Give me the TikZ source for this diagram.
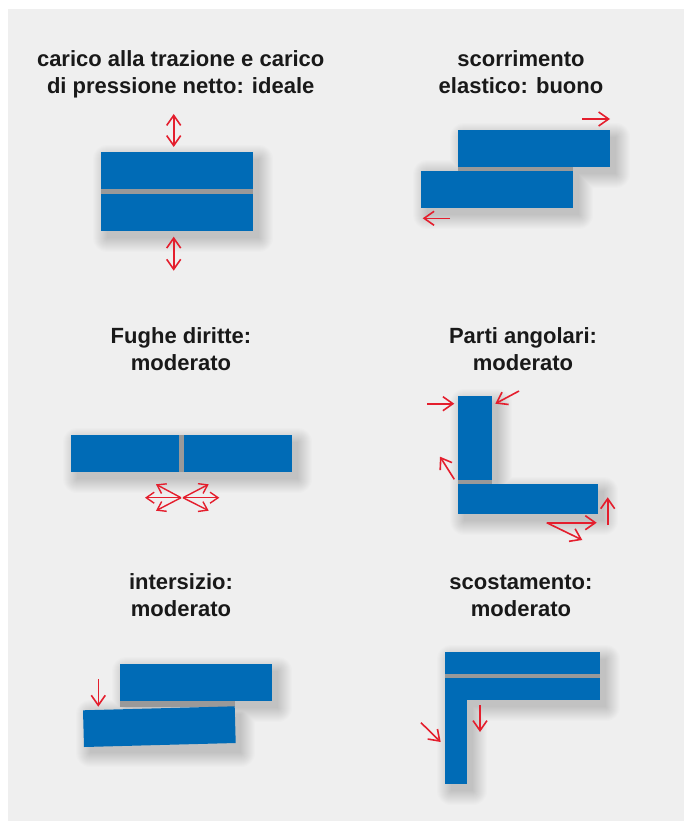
\documentclass[tikz,border=0pt]{standalone}
\usepackage{fontspec}
\setmainfont{Liberation Sans}
\usetikzlibrary{arrows.meta}
\definecolor{bgcol}{RGB}{239,239,239}
\definecolor{tileblue}{RGB}{0,107,182}
\definecolor{jointgray}{RGB}{153,153,153}
\definecolor{arrowred}{RGB}{228,30,45}
\newcommand\softshadow[4]{%
  \foreach \s in {0,...,14}{\fill[black,opacity=0.011,rounded corners=\s pt] (#1+6-\s,#2+7-\s) rectangle (#3+6+\s,#4+7+\s);}}
\newcommand\softshadowL[8]{%
  \foreach \s in {0,...,14}{\fill[black,opacity=0.011,rounded corners=\s pt] (#1+6-\s,#2+7-\s) rectangle (#3+6+\s,#4+7+\s) (#5+6-\s,#6+7-\s) rectangle (#7+6+\s,#8+7+\s);}}
\tikzset{
  block/.style={fill=tileblue},
  joint/.style={fill=jointgray},
  title/.style={anchor=base, inner sep=0pt, font=\fontsize{22}{27}\selectfont\bfseries, text=black!90},
  redarrow/.style={draw=arrowred, line width=1.6pt, -{Straight Barb[length=10pt,width=14pt]}},
  redboth/.style={draw=arrowred, line width=1.6pt, {Straight Barb[length=10pt,width=14pt]}-{Straight Barb[length=10pt,width=14pt]}},
  smallarrow/.style={draw=arrowred, line width=1.4pt, -{Straight Barb[length=8pt,width=11pt]}}
}
\begin{document}
\begin{tikzpicture}[x=1pt,y=-1pt]
\useasboundingbox (0,0) rectangle (684,821);
\fill[bgcol] (8,9) rectangle (684,821);

% ---------- titles
\node[title] (t1a) at (180.7,66.7) {carico alla trazione e carico};
\node[title] (t1b) at (180.7,93.5) {di pressione netto: ideale};
\node[title] (t2a) at (521,66.7) {scorrimento};
\node[title] (t2b) at (521,93.5) {elastico: buono};
\node[title] (t3a) at (181,343) {Fughe diritte:};
\node[title] (t3b) at (181,370) {moderato};
\node[title] (t4a) at (523,343) {Parti angolari:};
\node[title] (t4b) at (523,370) {moderato};
\node[title] (t5a) at (181,589) {intersizio:};
\node[title] (t5b) at (181,616) {moderato};
\node[title] (t6a) at (521,589) {scostamento:};
\node[title] (t6b) at (521,616) {moderato};

% ---------- shadows
\softshadow{101}{152}{253}{231}
\softshadowL{458}{130}{610}{167}{421}{167}{573}{208}
\softshadow{71}{435}{292}{472}
\softshadowL{458}{396}{492}{484}{458}{484}{598}{514}
\softshadowL{120}{664}{272}{701}{84}{707}{235}{746}
\softshadowL{445}{652}{600}{700}{445}{652}{467}{784}

% ---------- panel 1
\fill[block] (101,152) rectangle (253,189);
\fill[joint] (101,189) rectangle (253,194);
\fill[block] (101,194) rectangle (253,231);
\coordinate (p1a) at (173.7,114);
\coordinate (p1b) at (173.7,147);
\coordinate (p1c) at (173.7,236.7);
\coordinate (p1d) at (173.7,270.7);
\draw[redboth] (p1a) -- (p1b);
\draw[redboth] (p1c) -- (p1d);

% ---------- panel 2
\fill[block] (458,130) rectangle (610,166.7);
\fill[joint] (458,166.7) rectangle (573,170.7);
\fill[block] (421,170.7) rectangle (573,207.7);
\coordinate (p2a) at (582,119);
\coordinate (p2b) at (610,119);
\coordinate (p2c) at (450,218.3);
\coordinate (p2d) at (422.7,218.3);
\draw[redarrow] (p2a) -- (p2b);
\draw[redarrow] (p2c) -- (p2d);

% ---------- panel 3
\fill[block] (71,435) rectangle (179,471.7);
\fill[joint] (179,435) rectangle (184,471.7);
\fill[block] (184,435) rectangle (292,471.7);
\coordinate (p3l) at (181,497.7);
\coordinate (p3r) at (183,497.7);
\coordinate (p3l1) at (145,497.7);
\coordinate (p3l2) at (156,484.3);
\coordinate (p3l3) at (156,510.7);
\coordinate (p3r1) at (219.3,497.7);
\coordinate (p3r2) at (208.7,484.3);
\coordinate (p3r3) at (208.7,510.7);
\foreach \t in {p3l1,p3l2,p3l3}{\draw[smallarrow] (p3l) -- (\t);}
\foreach \t in {p3r1,p3r2,p3r3}{\draw[smallarrow] (p3r) -- (\t);}

% ---------- panel 4
\fill[block] (458,396) rectangle (492,479.7);
\fill[joint] (458,479.7) rectangle (492,483.7);
\fill[block] (458,483.7) rectangle (598,513.7);
\coordinate (p4a) at (427.3,403.7);
\coordinate (p4b) at (454.3,403.7);
\coordinate (p4c) at (519,391);
\coordinate (p4d) at (495.3,403.7);
\coordinate (p4e) at (454.3,479.3);
\coordinate (p4f) at (440,456.7);
\coordinate (p4g) at (546.7,522.7);
\coordinate (p4h) at (596.7,522.7);
\coordinate (p4i) at (582.3,540);
\coordinate (p4j) at (607.7,524.7);
\coordinate (p4k) at (607.7,497.3);
\draw[redarrow] (p4a) -- (p4b);
\draw[redarrow] (p4c) -- (p4d);
\draw[redarrow] (p4e) -- (p4f);
\draw[redarrow] (p4g) -- (p4h);
\draw[redarrow] (p4g) -- (p4i);
\draw[redarrow] (p4j) -- (p4k);

% ---------- panel 5
\fill[block] (120,664) rectangle (272,701);
\fill[joint] (120,701) rectangle (235,706.7);
\fill[block] (83,710.3) -- (234.7,706.3) -- (235.7,743) -- (84,747) -- cycle;
\coordinate (p5a) at (98.3,679);
\coordinate (p5b) at (98.3,706.7);
\draw[redarrow] (p5a) -- (p5b);

% ---------- panel 6
\fill[block] (445,652) rectangle (600,700);
\fill[joint] (445,673.7) rectangle (600,677.7);
\fill[block] (445,699) rectangle (467,783.7);
\coordinate (p6a) at (421,722.7);
\coordinate (p6b) at (440.7,742);
\coordinate (p6c) at (480,705);
\coordinate (p6d) at (480,732);
\draw[redarrow] (p6a) -- (p6b);
\draw[redarrow] (p6c) -- (p6d);
\end{tikzpicture}
\end{document}
